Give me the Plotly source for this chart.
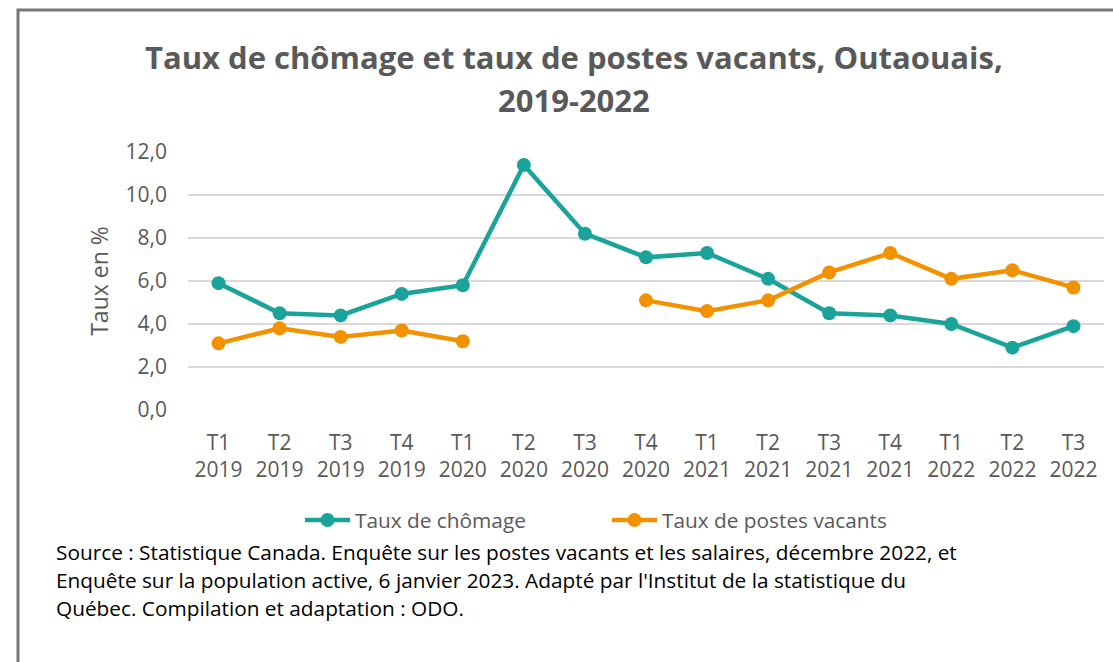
import plotly.graph_objects as go

quarters = ["T1<br>2019", "T2<br>2019", "T3<br>2019", "T4<br>2019",
            "T1<br>2020", "T2<br>2020", "T3<br>2020", "T4<br>2020",
            "T1<br>2021", "T2<br>2021", "T3<br>2021", "T4<br>2021",
            "T1<br>2022", "T2<br>2022", "T3<br>2022"]
chomage = [5.9, 4.5, 4.4, 5.4, 5.8, 11.4, 8.2, 7.1, 7.3, 6.1, 4.5, 4.4, 4.0, 2.9, 3.9]
postes_vacants = [3.1, 3.8, 3.4, 3.7, 3.2, None, None, 5.1, 4.6, 5.1, 6.4, 7.3, 6.1, 6.5, 5.7]
y_ticks = [0, 2, 4, 6, 8, 10, 12]

title_lines = ["Taux de chômage et taux de postes vacants, Outaouais,", "2019-2022"]
source_lines = [
    "Source : Statistique Canada. Enquête sur les postes vacants et les salaires, décembre 2022, et",
    "Enquête sur la population active, 6 janvier 2023. Adapté par l'Institut de la statistique du",
    "Québec. Compilation et adaptation : ODO.",
]

TEAL = "#1aa39a"
ORANGE = "#f39200"
GRAY = "#595959"
FONT = "Open Sans"

W, H = 1113, 662
L, R, T, B = 188, 9, 152, 252
pw, ph = W - L - R, H - T - B

def px_x(x):
    return (x - L) / pw

def px_y(y):
    return (H - B - y) / ph

fig = go.Figure()
fig.add_trace(go.Scatter(x=quarters, y=chomage, name="Taux de chômage",
                         mode="lines+markers",
                         line=dict(color=TEAL, width=4.5),
                         marker=dict(color=TEAL, size=14),
                         connectgaps=False))
fig.add_trace(go.Scatter(x=quarters, y=postes_vacants, name="Taux de postes vacants",
                         mode="lines+markers",
                         line=dict(color=ORANGE, width=4.5),
                         marker=dict(color=ORANGE, size=14),
                         connectgaps=False))

annotations = []
for i, line in enumerate(title_lines):
    annotations.append(dict(text="<b>" + line + "</b>", xref="paper", yref="paper",
                            x=px_x(574), y=px_y(57 + 43 * i), xanchor="center", yanchor="middle",
                            showarrow=False, font=dict(family=FONT, size=31, color=GRAY)))
for i, line in enumerate(source_lines):
    annotations.append(dict(text=line, xref="paper", yref="paper",
                            x=px_x(54), y=px_y(552 + 28 * i), xanchor="left", yanchor="middle",
                            showarrow=False, align="left",
                            font=dict(family=FONT, size=20.8, color="#000000")))

fig.update_layout(
    width=W, height=H,
    margin=dict(l=L, r=R, t=T, b=B, pad=0),
    paper_bgcolor="white", plot_bgcolor="white",
    separators=", ",
    font=dict(family=FONT, color=GRAY),
    showlegend=True,
    legend=dict(orientation="h", xref="container", yref="container",
                x=607 / W, xanchor="center",
                y=1 - 500 / H, yanchor="top",
                font=dict(family=FONT, size=20.8, color=GRAY),
                itemwidth=45, entrywidth=247, bgcolor="rgba(0,0,0,0)"),
    annotations=annotations,
    shapes=[dict(type="rect", xref="paper", yref="paper",
                 x0=px_x(18), x1=px_x(1140), y0=px_y(700), y1=px_y(10),
                 line=dict(color="#767676", width=3), fillcolor="rgba(0,0,0,0)",
                 layer="below")],
)
fig.update_xaxes(type="category", range=[-0.5, len(quarters) - 0.5],
                 showgrid=False, showline=False, zeroline=False, ticks="",
                 ticklabelstandoff=18,
                 tickfont=dict(family=FONT, size=21, color=GRAY))
fig.update_yaxes(range=[0, 12], tickvals=y_ticks, tickformat=".1f",
                 showgrid=True, gridcolor="#d9d9d9", gridwidth=1.5,
                 zeroline=False, showline=False, ticks="",
                 ticklabelstandoff=20,
                 tickfont=dict(family=FONT, size=21, color=GRAY),
                 title=dict(text="Taux en %", standoff=10,
                            font=dict(family=FONT, size=23, color=GRAY)))

fig.write_html("out.html", config={"displayModeBar": False},
               post_script="document.body.style.margin='0';")
